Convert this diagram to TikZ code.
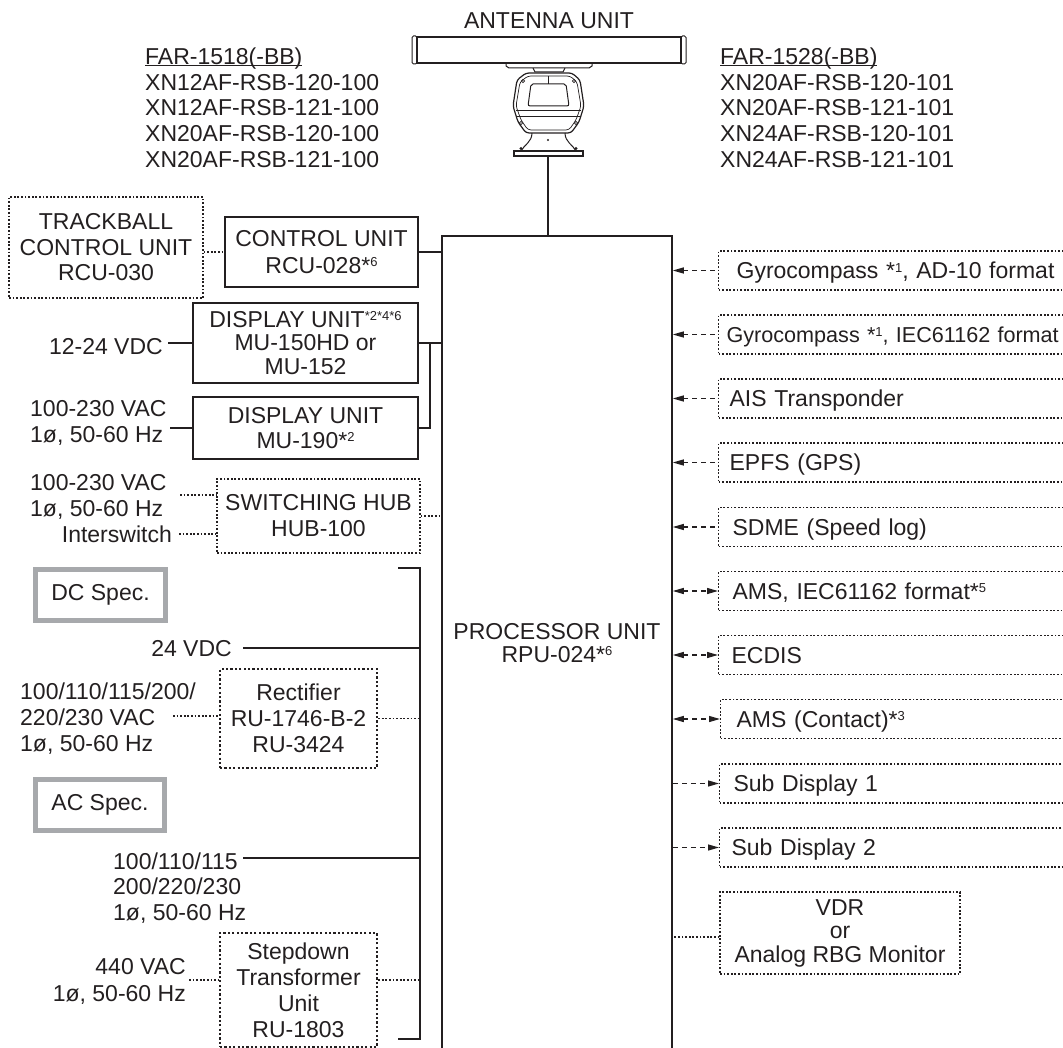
\documentclass[tikz,border=0pt]{standalone}
\usepackage{fontspec}
\setmainfont{Liberation Sans}
\usetikzlibrary{arrows.meta,calc}
\definecolor{specgray}{RGB}{167,169,172}
\definecolor{inkc}{RGB}{35,31,32}
\newcommand\supx[1]{{\fontsize{13}{13}\selectfont\raisebox{6.5pt}{#1}}}
\newcommand\ulx[1]{\setbox0\hbox{#1}\rlap{\rule[-1.6pt]{\wd0}{1.1pt}}\box0}
\begin{document}
\begin{tikzpicture}[x=1pt,y=-1pt,
  every node/.style={font=\fontsize{23}{25.5}\selectfont, text=inkc, inner sep=0pt},
  solidbox/.style={draw=inkc, line width=1.3pt, align=center},
  dotbox/.style={draw=inkc, line width=1.2pt, dash pattern=on 1.8pt off 1.8pt, align=center},
  heavydot/.style={draw=inkc, line width=2.2pt, dash pattern=on 2.2pt off 2.2pt, align=center},
  specbox/.style={draw=specgray, line width=5pt},
  dotline/.style={draw=inkc, line width=1.2pt, dash pattern=on 1.8pt off 1.8pt},
  thickline/.style={draw=inkc, line width=2.4pt},
  plainline/.style={draw=inkc, line width=1.3pt},
  sigline/.style={draw=inkc, line width=1.3pt, dash pattern=on 5pt off 4pt},
  >={Triangle[length=11pt,width=6pt]},
  rbox/.style={dotbox, anchor=west, minimum width=360pt, minimum height=39pt,
    inner xsep=12pt, text width=336pt, align=left, text height=16.5pt, text depth=0pt},
  antline/.style={draw=inkc, line width=1pt}
]
\useasboundingbox (0,0) rectangle (1063,1048);
\clip (0,0) rectangle (1063,1048);

% ---------- antenna ----------
\node[anchor=base] (antlbl) at (549,29) {ANTENNA UNIT};
\draw[antline, line width=1.3pt] (417,37) rectangle (681,63);
\draw[antline, rounded corners=1.5pt] (412,36) rectangle (417,64);
\draw[antline, rounded corners=1.5pt] (681,36) rectangle (686,64);
\draw[antline] (506,63) -- (506,66) -- (509,68) -- (589,68) -- (592,66) -- (592,63);
\draw[antline] (533,68) -- (535,72) -- (563,72) -- (565,68);
\draw[antline, line width=1.2pt, rounded corners=3pt]
  (526,73) -- (572,73) -- (580,80) -- (584,106) -- (579,122) -- (571,133)
  -- (526,133) -- (518,122) -- (513,106) -- (517,80) -- cycle;
\draw[antline, line width=0.7pt, rounded corners=3pt]
  (528,76) -- (570,76) -- (577,82) -- (581,106) -- (576,120) -- (569,130)
  -- (528,130) -- (521,120) -- (516,106) -- (520,82) -- cycle;
\draw[antline, rounded corners=2pt] (531,84) -- (566,84) -- (569,106) -- (528,106) -- cycle;
\draw[antline, line width=0.7pt] (516,110) -- (581,110);
\draw[antline, line width=0.7pt] (517,116) -- (580,116);
\draw[antline, line width=0.5pt] (548.5,76) -- (548.5,84);
\draw[antline] (532,133) .. controls (532,142) and (524,145) .. (521,151);
\draw[antline] (565,133) .. controls (565,142) and (573,145) .. (576,151);
\draw[antline, line width=1.2pt] (514,151) rectangle (583,156);
\foreach \bx/\by in {523/81,574/81,521/123,576/123}{\draw[antline, line width=0.7pt] (\bx,\by) circle (1.6);}
\fill[inkc] (521,148.5) circle (1.7);
\fill[inkc] (576,148.5) circle (1.7);
\fill[inkc] (548,140) circle (1.2);
\coordinate (antbase) at (548,156);

% ---------- model lists ----------
\node[anchor=north west, align=left, font=\fontsize{23}{25.75}\selectfont] (m1518) at (145,47.5)
  {\ulx{FAR-1518(-BB)}\\XN12AF-RSB-120-100\\XN12AF-RSB-121-100\\XN20AF-RSB-120-100\\XN20AF-RSB-121-100};
\node[anchor=north west, align=left, font=\fontsize{23}{25.75}\selectfont] (m1528) at (720,47.5)
  {\ulx{FAR-1528(-BB)}\\XN20AF-RSB-120-101\\XN20AF-RSB-121-101\\XN24AF-RSB-120-101\\XN24AF-RSB-121-101};

% ---------- processor ----------
\node[draw=inkc, line width=1.5pt, minimum width=230pt, minimum height=814pt,
  align=center, font=\fontsize{23}{22.5}\selectfont] (proc) at (557,643)
  {PROCESSOR UNIT\\RPU-024*\supx{6}};
\draw[plainline] (antbase) -- (antbase |- proc.north);

% ---------- left units ----------
\node[dotbox, minimum width=194pt, minimum height=101pt] (track) at (106,247.5)
  {TRACKBALL\\CONTROL UNIT\\RCU-030};
\node[solidbox, minimum width=193pt, minimum height=70pt, font=\fontsize{23}{26.5}\selectfont] (ctrl) at (321.5,252)
  {CONTROL UNIT\\RCU-028*\supx{6}};
\node[solidbox, minimum width=225pt, minimum height=80pt, font=\fontsize{23}{23.5}\selectfont] (du1) at (305.5,343)
  {DISPLAY UNIT\supx{*2*4*6}\\MU-150HD or\\MU-152};
\node[solidbox, minimum width=225pt, minimum height=62pt, font=\fontsize{23}{25}\selectfont] (du2) at (305.5,428)
  {DISPLAY UNIT\\MU-190*\supx{2}};
\node[dotbox, minimum width=203pt, minimum height=74pt, font=\fontsize{23}{26}\selectfont] (hub) at (318.5,516)
  {SWITCHING HUB\\HUB-100};
\node[specbox, minimum width=130pt, minimum height=51pt] (dcs) at (100.5,595) {DC Spec.};
\node[specbox, minimum width=129pt, minimum height=51pt] (acs) at (100,805) {AC Spec.};
\node[heavydot, minimum width=157pt, minimum height=99pt, font=\fontsize{23}{26}\selectfont] (rect) at (298.5,718.5)
  {Rectifier\\RU-1746-B-2\\RU-3424};
\node[heavydot, minimum width=157pt, minimum height=114pt, font=\fontsize{23}{26}\selectfont] (stepdn) at (298.5,990)
  {Stepdown\\Transformer\\Unit\\RU-1803};

% ---------- left labels ----------
\node[anchor=base east] (t1224) at (163,355) {12-24 VDC};
\node[anchor=north west, align=left, font=\fontsize{23}{26}\selectfont] (tdu2) at (30,400.2) {100-230 VAC\\1ø, 50-60 Hz};
\node[anchor=north west, align=left, font=\fontsize{23}{26}\selectfont] (thub) at (30,474.5) {100-230 VAC\\1ø, 50-60 Hz};
\node[anchor=base east] (tisw) at (172,542.5) {Interswitch};
\node[anchor=base east] (t24) at (232,656.5) {24 VDC};
\node[anchor=north west, align=left, font=\fontsize{23}{26}\selectfont] (trect) at (20,682.5)
  {100/110/115/200/\\220/230 VAC\\1ø, 50-60 Hz};
\node[anchor=north west, align=left, font=\fontsize{23}{25.5}\selectfont] (tac) at (113,852.5)
  {100/110/115\\200/220/230\\1ø, 50-60 Hz};
\node[anchor=north east, align=right, font=\fontsize{23}{26.5}\selectfont] (tstep) at (186,958.5)
  {440 VAC\\1ø, 50-60 Hz};

% ---------- left connectors ----------
\coordinate (p1224) at (168,343);
\coordinate (pdu2) at (170,428);
\coordinate (phub1) at (180,495);
\coordinate (phub2) at (179,534);
\coordinate (p24) at (243,648);
\coordinate (prect) at (173,716);
\coordinate (pac) at (243,858);
\coordinate (pstep) at (189,980);
\coordinate (brtop) at (420,568);
\coordinate (brbot) at (420,1039);
\coordinate (brtl) at (398,568);
\coordinate (brbl) at (398,1039);
\coordinate (jn) at (430,343);

\draw[dotline] (track.east |- ctrl.west) -- (ctrl.west);
\draw[plainline] (ctrl.east) -- (ctrl.east -| proc.west);
\draw[plainline] (du1.east) -- (du1.east -| proc.west);
\draw[plainline] (du2.east) -| (jn);
\draw[plainline] (du1.west) -- (du1.west -| p1224);
\draw[plainline] (du2.west) -- (du2.west -| pdu2);
\draw[dotline] (phub1) -- (phub1 -| hub.west);
\draw[dotline] (phub2) -- (phub2 -| hub.west);
\draw[dotline] (hub.east) -- (hub.east -| proc.west);
\draw[plainline] (brtl) -- (brtop) -- (brbot) -- (brbl);
\draw[thickline] (p24) -- (p24 -| brtop);
\draw[dotline] (prect) -- (prect -| rect.west);
\draw[dotline] (rect.east) -- (rect.east -| brtop);
\draw[thickline] (pac) -- (pac -| brtop);
\draw[dotline] (pstep) -- (pstep -| stepdn.west);
\draw[dotline] (pstep -| stepdn.east) -- (pstep -| brtop);

% ---------- right units ----------
\node[rbox] (g1) at (718,270.5) {\hspace*{6pt}Gyrocompass *\supx{1}, AD-10 format};
\node[rbox, font=\fontsize{21.6}{24}\selectfont] (g2) at (718,334.5) {\hspace*{-4pt}Gyrocompass *\supx{1}, IEC61162 format};
\node[rbox] (ais) at (718,398.5) {\hspace*{-1pt}AIS Transponder};
\node[rbox] (epfs) at (718,462.5) {\hspace*{-1pt}EPFS (GPS)};
\node[rbox] (sdme) at (718,527) {\hspace*{2pt}SDME (Speed log)};
\node[rbox] (amsi) at (718,591) {\hspace*{2pt}AMS, IEC61162 format*\supx{5}};
\node[rbox] (ecdis) at (718,655) {\hspace*{1pt}ECDIS};
\node[rbox] (amsc) at (720,719) {\hspace*{4pt}AMS (Contact)*\supx{3}};
\node[rbox] (sub1) at (719,783.5) {\hspace*{2pt}Sub Display 1};
\node[rbox] (sub2) at (719,847.5) {Sub Display 2};
\node[dotbox, minimum width=240pt, minimum height=82pt, font=\fontsize{23}{23.5}\selectfont] (vdr) at (840,933)
  {VDR\\or\\Analog RBG Monitor};

% ---------- right connectors ----------
\draw[sigline,<-] (g1.west -| proc.east) -- (g1.west);
\draw[sigline,<-] (g2.west -| proc.east) -- (g2.west);
\draw[sigline,<-] (ais.west -| proc.east) -- (ais.west);
\draw[sigline,<-] (epfs.west -| proc.east) -- (epfs.west);
\draw[sigline,<-] (sdme.west -| proc.east) -- (sdme.west);
\draw[sigline,<->] (amsi.west -| proc.east) -- (amsi.west);
\draw[sigline,<->] (ecdis.west -| proc.east) -- (ecdis.west);
\draw[sigline,<->] (amsc.west -| proc.east) -- (amsc.west);
\draw[sigline,->] (sub1.west -| proc.east) -- (sub1.west);
\draw[sigline,->] (sub2.west -| proc.east) -- (sub2.west);
\draw[dotline] ([yshift=-4pt]vdr.west) -- ([yshift=-4pt]vdr.west -| proc.east);
\end{tikzpicture}
\end{document}
